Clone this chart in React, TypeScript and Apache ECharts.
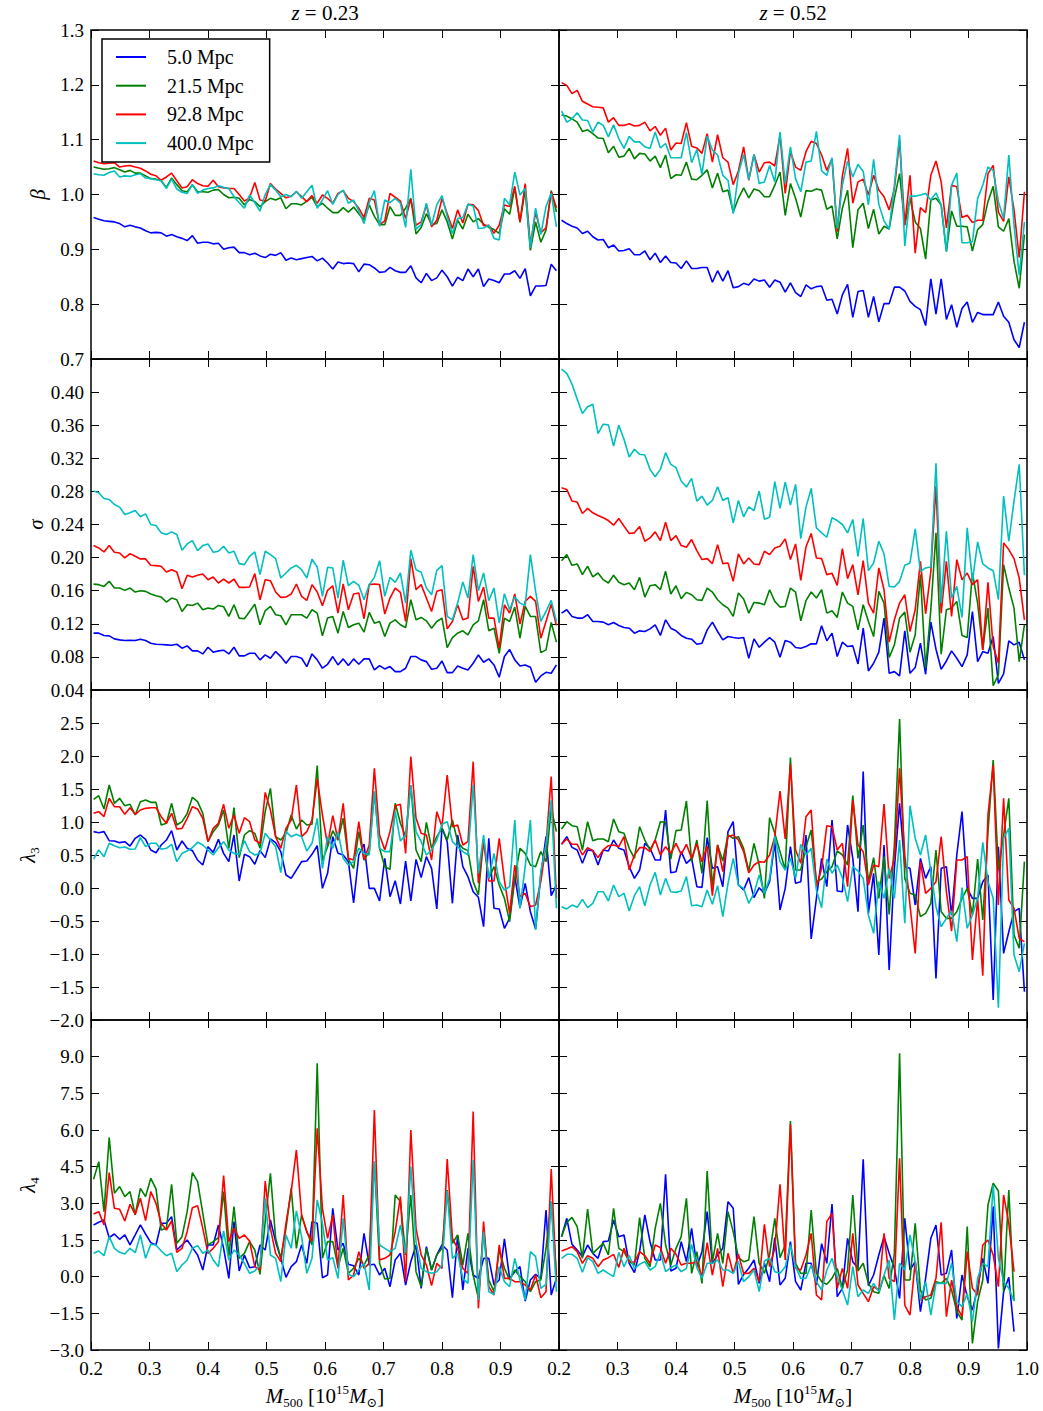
import React, { useEffect, useRef } from "react";
import * as echarts from "echarts";

// Mass-bin centres (10^15 Msun), 90 bins between 0.2 and 1.0
const MASS = [
  0.2044, 0.2133, 0.2222, 0.2311, 0.2400, 0.2489, 0.2578, 0.2667, 0.2756, 0.2844,
  0.2933, 0.3022, 0.3111, 0.3200, 0.3289, 0.3378, 0.3467, 0.3556, 0.3644, 0.3733,
  0.3822, 0.3911, 0.4000, 0.4089, 0.4178, 0.4267, 0.4356, 0.4444, 0.4533, 0.4622,
  0.4711, 0.4800, 0.4889, 0.4978, 0.5067, 0.5156, 0.5244, 0.5333, 0.5422, 0.5511,
  0.5600, 0.5689, 0.5778, 0.5867, 0.5956, 0.6044, 0.6133, 0.6222, 0.6311, 0.6400,
  0.6489, 0.6578, 0.6667, 0.6756, 0.6844, 0.6933, 0.7022, 0.7111, 0.7200, 0.7289,
  0.7378, 0.7467, 0.7556, 0.7644, 0.7733, 0.7822, 0.7911, 0.8000, 0.8089, 0.8178,
  0.8267, 0.8356, 0.8444, 0.8533, 0.8622, 0.8711, 0.8800, 0.8889, 0.8978, 0.9067,
  0.9156, 0.9244, 0.9333, 0.9422, 0.9511, 0.9600, 0.9689, 0.9778, 0.9867, 0.9956,
];

const SCALES = ["5.0 Mpc", "21.5 Mpc", "92.8 Mpc", "400.0 Mpc"];
const COLORS = ["#0000ff", "#008000", "#ff0000", "#00bfbf"];
const TITLES = ["0.23", "0.52"];

// ---------------- beta, z = 0.23 ----------------
const BETA_A_5 = [
  0.958,0.955,0.952,0.951,0.950,0.947,0.941,0.944,0.941,0.939,
  0.934,0.930,0.931,0.930,0.924,0.927,0.923,0.920,0.916,0.925,
  0.911,0.913,0.913,0.910,0.911,0.900,0.903,0.904,0.894,0.894,
  0.890,0.893,0.888,0.885,0.891,0.889,0.894,0.880,0.884,0.881,
  0.883,0.885,0.887,0.879,0.884,0.875,0.864,0.877,0.874,0.875,
  0.874,0.859,0.873,0.872,0.866,0.858,0.859,0.867,0.861,0.858,
  0.858,0.870,0.848,0.839,0.856,0.843,0.848,0.862,0.850,0.833,
  0.849,0.843,0.864,0.850,0.864,0.832,0.846,0.843,0.839,0.855,
  0.855,0.861,0.847,0.865,0.815,0.833,0.833,0.834,0.873,0.861,
];
const BETA_A_21 = [
  1.050,1.048,1.046,1.047,1.049,1.045,1.041,1.044,1.039,1.039,
  1.034,1.029,1.028,1.025,1.013,1.030,1.018,1.007,1.005,1.018,
  1.005,1.005,1.004,1.008,1.009,1.000,0.994,0.995,0.993,0.981,
  0.991,0.987,0.978,0.987,0.993,0.990,0.994,0.974,0.983,0.983,
  0.981,0.988,0.995,0.978,0.984,0.975,0.967,0.967,0.976,0.968,
  0.977,0.965,0.953,0.981,0.960,0.945,0.945,0.978,0.962,0.962,
  0.975,0.993,0.928,0.940,0.965,0.945,0.947,0.972,0.950,0.919,
  0.953,0.937,0.964,0.950,0.956,0.946,0.940,0.936,0.929,0.974,
  0.964,1.012,0.949,1.008,0.898,0.950,0.913,0.935,1.007,0.968,
];
const BETA_A_92 = [
  1.061,1.058,1.056,1.057,1.058,1.050,1.052,1.053,1.050,1.048,
  1.043,1.037,1.034,1.026,1.032,1.039,1.025,1.012,1.014,1.027,
  1.020,1.016,1.015,1.026,1.014,1.012,1.011,1.011,1.000,0.988,
  0.994,1.022,0.990,0.988,1.020,1.010,1.002,0.994,0.997,1.005,
  0.996,0.987,0.998,0.984,0.999,0.993,0.984,1.002,1.007,0.993,
  0.987,0.975,0.958,0.993,0.990,0.945,0.952,1.002,0.995,0.988,
  0.956,0.992,0.944,0.950,0.981,0.941,0.953,0.993,0.965,0.938,
  0.972,0.948,0.982,0.981,0.971,0.943,0.944,0.929,0.944,0.981,
  0.978,1.015,0.950,1.020,0.908,0.968,0.930,0.939,1.005,0.976,
];
const BETA_A_400 = [
  1.038,1.036,1.035,1.040,1.043,1.032,1.034,1.033,1.036,1.038,
  1.030,1.029,1.027,1.025,1.011,1.028,1.010,1.004,1.002,1.018,
  1.002,1.008,1.011,1.012,1.016,1.013,1.011,0.996,0.985,0.975,
  0.999,0.985,0.970,1.000,1.018,1.008,0.996,1.000,0.996,1.006,
  0.993,1.005,1.017,0.975,0.990,1.007,0.982,1.000,1.008,0.984,
  0.990,0.970,0.947,0.985,1.007,0.942,0.990,0.985,0.993,0.984,
  0.940,1.046,0.937,0.945,0.984,0.944,0.981,0.998,0.960,0.929,
  0.956,0.958,0.982,0.979,0.938,0.939,0.944,0.920,0.917,0.993,
  0.981,1.041,0.999,1.011,0.903,0.975,0.927,0.978,1.002,0.941,
];

// ---------------- beta, z = 0.52 ----------------
const BETA_B_5 = [
  0.953,0.947,0.942,0.939,0.929,0.933,0.923,0.917,0.918,0.903,
  0.908,0.897,0.898,0.901,0.890,0.890,0.897,0.881,0.893,0.876,
  0.888,0.876,0.875,0.865,0.879,0.865,0.865,0.867,0.867,0.840,
  0.861,0.842,0.861,0.830,0.832,0.838,0.835,0.846,0.842,0.844,
  0.831,0.844,0.840,0.822,0.839,0.821,0.814,0.835,0.828,0.832,
  0.833,0.807,0.809,0.782,0.817,0.836,0.776,0.823,0.825,0.776,
  0.814,0.768,0.801,0.801,0.831,0.831,0.824,0.805,0.796,0.790,
  0.761,0.846,0.782,0.846,0.772,0.799,0.758,0.792,0.804,0.767,
  0.785,0.781,0.781,0.781,0.804,0.778,0.767,0.735,0.721,0.767,
];
const BETA_B_21 = [
  1.145,1.143,1.138,1.132,1.115,1.118,1.111,1.103,1.102,1.076,
  1.088,1.068,1.070,1.084,1.065,1.075,1.074,1.061,1.070,1.049,
  1.072,1.029,1.036,1.035,1.059,1.028,1.027,1.035,1.045,1.012,
  1.039,1.005,1.008,0.968,0.993,1.012,0.994,1.010,1.007,0.996,
  0.996,1.017,1.041,0.962,1.020,0.993,0.959,1.007,1.006,1.010,
  1.008,0.973,0.979,0.919,0.975,1.008,0.903,0.972,0.984,0.938,
  0.973,0.928,0.942,0.937,0.993,1.038,0.944,0.993,0.950,0.938,
  0.882,0.990,0.993,0.981,0.896,0.970,0.942,0.942,0.941,0.897,
  0.936,0.945,0.987,1.015,0.941,0.933,0.956,0.878,0.829,0.927,
];
const BETA_B_92 = [
  1.204,1.199,1.184,1.190,1.170,1.165,1.160,1.159,1.158,1.132,
  1.140,1.126,1.126,1.129,1.125,1.126,1.132,1.116,1.124,1.108,
  1.121,1.081,1.094,1.093,1.131,1.088,1.085,1.075,1.111,1.059,
  1.109,1.067,1.059,1.018,1.043,1.087,1.026,1.073,1.041,1.058,
  1.059,1.052,1.108,1.002,1.078,1.050,1.044,1.078,1.097,1.093,
  1.072,1.044,1.065,0.932,1.034,1.084,0.984,1.023,1.028,0.999,
  1.035,1.008,0.996,0.972,1.011,1.099,0.944,1.035,0.893,0.976,
  0.967,1.035,1.061,1.023,0.939,1.017,1.014,0.958,0.962,0.949,
  0.953,0.953,1.038,1.053,0.968,0.951,1.032,0.972,0.885,1.005,
];
const BETA_B_400 = [
  1.152,1.132,1.138,1.149,1.136,1.135,1.114,1.132,1.126,1.105,
  1.127,1.102,1.084,1.106,1.096,1.096,1.087,1.084,1.114,1.085,
  1.093,1.067,1.067,1.067,1.113,1.058,1.082,1.037,1.106,1.081,
  1.072,1.035,1.026,0.965,1.038,1.073,1.027,1.073,1.020,1.023,
  1.053,1.023,1.114,1.020,1.087,1.029,1.005,1.059,1.061,1.115,
  1.043,1.035,1.067,0.938,1.017,1.061,1.032,1.055,1.042,0.981,
  1.064,0.982,0.952,0.937,1.017,1.109,0.906,0.997,0.997,0.999,
  1.002,0.990,1.003,0.981,0.896,1.017,1.039,0.912,0.912,0.914,
  0.993,1.017,1.050,1.044,0.987,0.956,1.072,0.944,0.853,0.950,
];

// ---------------- sigma, z = 0.23 ----------------
const SIGMA_A_5 = [
  0.1087,0.1087,0.1059,0.1054,0.1018,0.1006,0.0998,0.1002,0.0998,0.1014,
  0.0998,0.0966,0.0953,0.0949,0.0945,0.0941,0.0953,0.0905,0.0933,0.0873,
  0.0873,0.0836,0.0917,0.0857,0.0873,0.0881,0.0836,0.0917,0.0812,0.0812,
  0.0844,0.0844,0.0764,0.0824,0.0784,0.0865,0.0804,0.0723,0.0804,0.0804,
  0.0784,0.0683,0.0836,0.0764,0.0663,0.0711,0.0804,0.0703,0.0776,0.0695,
  0.0776,0.0711,0.0776,0.0776,0.0642,0.0695,0.0655,0.0683,0.0622,0.0622,
  0.0663,0.0804,0.0804,0.0764,0.0743,0.0650,0.0663,0.0751,0.0610,0.0610,
  0.0691,0.0663,0.0642,0.0723,0.0824,0.0735,0.0776,0.0703,0.0554,0.0804,
  0.0889,0.0764,0.0691,0.0703,0.0675,0.0493,0.0570,0.0614,0.0602,0.0703,
];
const SIGMA_A_21 = [
  0.1680,0.1673,0.1652,0.1713,0.1632,0.1632,0.1604,0.1632,0.1584,0.1600,
  0.1592,0.1560,0.1540,0.1523,0.1463,0.1511,0.1491,0.1349,0.1430,0.1422,
  0.1450,0.1370,0.1390,0.1378,0.1422,0.1406,0.1289,0.1430,0.1269,0.1261,
  0.1349,0.1438,0.1188,0.1357,0.1410,0.1309,0.1297,0.1188,0.1309,0.1309,
  0.1309,0.1269,0.1370,0.1329,0.1054,0.1269,0.1289,0.1087,0.1349,0.1155,
  0.1188,0.1208,0.1099,0.1337,0.1208,0.1228,0.1046,0.1208,0.1248,0.1188,
  0.1155,0.1491,0.1248,0.1277,0.1236,0.1147,0.1228,0.1269,0.0913,0.1034,
  0.1087,0.1115,0.1067,0.1188,0.1236,0.1491,0.1115,0.1147,0.0844,0.1269,
  0.1228,0.1402,0.1026,0.1410,0.1289,0.1289,0.0852,0.0885,0.1216,0.0978,
];
const SIGMA_A_92 = [
  0.2145,0.2117,0.2069,0.2145,0.2065,0.2056,0.1996,0.2048,0.2016,0.1984,
  0.1984,0.1907,0.1903,0.1895,0.1826,0.1854,0.1826,0.1624,0.1786,0.1766,
  0.1786,0.1802,0.1733,0.1766,0.1693,0.1741,0.1693,0.1741,0.1640,0.1640,
  0.1644,0.1806,0.1491,0.1733,0.1721,0.1584,0.1519,0.1523,0.1560,0.1681,
  0.1531,0.1483,0.1673,0.1584,0.1418,0.1604,0.1660,0.1329,0.1681,0.1370,
  0.1560,0.1572,0.1261,0.1673,0.1681,0.1673,0.1317,0.1511,0.1632,0.1580,
  0.1228,0.1988,0.1612,0.1673,0.1511,0.1349,0.1592,0.1612,0.1139,0.1228,
  0.1430,0.1248,0.1269,0.1895,0.1471,0.1644,0.1269,0.1269,0.0905,0.1430,
  0.1329,0.1560,0.1196,0.1471,0.1531,0.1471,0.1026,0.1228,0.1438,0.1180,
];
const SIGMA_A_400 = [
  0.2804,0.2784,0.2715,0.2703,0.2642,0.2610,0.2521,0.2541,0.2569,0.2493,
  0.2529,0.2400,0.2388,0.2299,0.2279,0.2311,0.2279,0.2089,0.2165,0.2206,
  0.2085,0.2145,0.2165,0.2065,0.2077,0.2137,0.2056,0.2077,0.1927,0.1915,
  0.2016,0.2069,0.1794,0.2077,0.2036,0.1988,0.1753,0.1814,0.1875,0.1907,
  0.1854,0.1753,0.1980,0.1887,0.1531,0.1883,0.1875,0.1511,0.1968,0.1660,
  0.1713,0.1665,0.1491,0.1673,0.1761,0.1963,0.1531,0.1761,0.1701,0.1814,
  0.1450,0.2089,0.1854,0.1822,0.1632,0.1551,0.1846,0.1903,0.1289,0.1248,
  0.1450,0.1705,0.1511,0.2036,0.1600,0.1814,0.1479,0.1632,0.1208,0.1564,
  0.1370,0.1523,0.1450,0.1422,0.2036,0.1592,0.1228,0.1349,0.1483,0.1228,
];

// ---------------- sigma, z = 0.52 ----------------
const SIGMA_B_5 = [
  0.1329,0.1370,0.1289,0.1269,0.1269,0.1309,0.1228,0.1228,0.1220,0.1188,
  0.1216,0.1180,0.1155,0.1147,0.1087,0.1115,0.1107,0.1139,0.1188,0.1059,
  0.1248,0.1147,0.1115,0.1059,0.1026,0.1014,0.0953,0.0966,0.1127,0.1220,
  0.1107,0.1006,0.1046,0.1034,0.1026,0.1034,0.0784,0.1018,0.0917,0.0978,
  0.1034,0.0978,0.0796,0.0998,0.0978,0.0913,0.0905,0.0925,0.0958,0.0958,
  0.1176,0.0994,0.1087,0.0804,0.0978,0.0925,0.0933,0.0715,0.1147,0.0630,
  0.0723,0.0857,0.1269,0.0602,0.0622,0.0570,0.1115,0.0602,0.0671,0.0966,
  0.0590,0.1220,0.0893,0.0650,0.0751,0.0873,0.0784,0.0683,0.0824,0.1349,
  0.0743,0.0865,0.0844,0.1046,0.0481,0.0594,0.0994,0.0945,0.0978,0.0764,
];
const SIGMA_B_21 = [
  0.1963,0.2036,0.1907,0.1923,0.1794,0.1895,0.1766,0.1814,0.1733,0.1693,
  0.1786,0.1701,0.1673,0.1693,0.1612,0.1761,0.1523,0.1660,0.1673,0.1612,
  0.1834,0.1560,0.1660,0.1503,0.1580,0.1551,0.1491,0.1483,0.1632,0.1584,
  0.1491,0.1430,0.1390,0.1289,0.1572,0.1499,0.1329,0.1458,0.1450,0.1430,
  0.1612,0.1471,0.1402,0.1410,0.1632,0.1584,0.1236,0.1479,0.1584,0.1511,
  0.1612,0.1329,0.1357,0.1277,0.1584,0.1450,0.1410,0.1127,0.1430,0.1228,
  0.1046,0.1592,0.1450,0.0792,0.0945,0.1269,0.1341,0.0857,0.1067,0.1794,
  0.0663,0.1370,0.2299,0.0832,0.1370,0.1390,0.1471,0.1059,0.1034,0.1814,
  0.1450,0.0885,0.1390,0.0453,0.0582,0.1915,0.1632,0.1390,0.0743,0.1188,
];
const SIGMA_B_92 = [
  0.2844,0.2824,0.2683,0.2671,0.2533,0.2594,0.2541,0.2509,0.2481,0.2448,
  0.2392,0.2473,0.2380,0.2291,0.2299,0.2376,0.2198,0.2238,0.2311,0.2206,
  0.2428,0.2206,0.2266,0.2145,0.2125,0.2218,0.2085,0.1976,0.1988,0.1927,
  0.2157,0.1927,0.1935,0.1713,0.2044,0.1923,0.1996,0.1923,0.1915,0.2077,
  0.2036,0.2117,0.2137,0.2226,0.1976,0.2165,0.1725,0.2129,0.2291,0.1996,
  0.1988,0.1794,0.1810,0.1665,0.2109,0.1745,0.1915,0.1551,0.1963,0.1450,
  0.1329,0.1875,0.1612,0.0978,0.1248,0.1450,0.1551,0.1107,0.1370,0.1955,
  0.1321,0.1834,0.2864,0.1329,0.1955,0.1289,0.1976,0.1733,0.1814,0.1673,
  0.1733,0.0885,0.1701,0.0925,0.0723,0.2178,0.2097,0.1988,0.1753,0.1248,
];
const SIGMA_B_400 = [
  0.4278,0.4226,0.4097,0.3915,0.3741,0.3822,0.3854,0.3499,0.3612,0.3604,
  0.3349,0.3600,0.3430,0.3216,0.3309,0.3248,0.3240,0.3066,0.2978,0.3066,
  0.3268,0.3127,0.3087,0.2925,0.2852,0.2957,0.2683,0.2743,0.2634,0.2691,
  0.2856,0.2691,0.2723,0.2420,0.2691,0.2493,0.2614,0.2569,0.2804,0.2464,
  0.2489,0.2917,0.2594,0.2913,0.2634,0.2885,0.2230,0.2610,0.2836,0.2359,
  0.2299,0.2246,0.2481,0.2448,0.2400,0.2299,0.2460,0.2016,0.2473,0.1842,
  0.1935,0.2198,0.2044,0.1652,0.1644,0.1713,0.1907,0.1935,0.2347,0.1834,
  0.1875,0.1887,0.3139,0.1450,0.2319,0.1511,0.1652,0.1277,0.2359,0.1713,
  0.2190,0.1923,0.1875,0.1842,0.1491,0.2743,0.2198,0.2683,0.3127,0.1786,
];

// ---------------- lambda_3, z = 0.23 ----------------
const L3_A_5 = [
  0.854,0.838,0.854,0.717,0.712,0.687,0.702,0.636,0.753,0.803,
  0.737,0.576,0.535,0.652,0.727,0.869,0.576,0.712,0.601,0.566,
  0.424,0.348,0.626,0.540,0.737,0.525,0.399,0.803,0.106,0.510,
  0.475,0.359,0.566,0.460,0.742,0.687,0.551,0.197,0.146,0.273,
  0.399,0.409,0.510,0.641,-0.005,0.222,0.778,0.525,0.500,0.399,
  -0.227,0.500,0.667,-0.005,-0.005,-0.197,0.449,-0.131,0.111,-0.242,
  0.409,-0.197,0.434,0.157,0.475,0.298,-0.318,0.914,0.702,-0.232,
  0.803,0.323,0.172,-0.056,-0.141,-0.586,0.753,-0.308,-0.318,-0.611,
  -0.460,0.172,-0.298,0.071,-0.359,-0.621,0.197,0.778,-0.116,0.045,
];
const L3_A_21 = [
  1.343,1.399,1.197,1.561,1.283,1.359,1.247,1.268,1.106,1.308,
  1.333,1.298,1.298,0.955,0.980,1.283,0.955,1.005,1.131,1.374,
  1.308,1.131,0.702,0.854,0.955,1.182,0.601,1.217,0.460,0.803,
  0.869,0.828,0.601,1.157,1.510,0.778,0.727,0.828,1.106,0.894,
  1.030,0.955,0.965,1.854,0.414,0.626,0.869,0.727,1.056,0.439,
  0.298,0.854,0.424,0.551,1.460,0.601,0.323,0.283,1.283,0.980,
  0.778,1.561,0.576,0.399,0.995,0.601,0.778,0.904,0.727,1.030,
  0.702,0.601,0.566,0.096,-0.106,0.742,0.146,0.323,0.045,-0.157,
  -0.510,0.146,0.601,0.525,0.348,0.323,0.551,0.399,1.207,0.854,
];
const L3_A_92 = [
  1.131,1.157,1.081,1.359,1.232,1.232,1.116,1.217,1.116,1.182,
  1.207,1.217,1.217,1.081,0.980,1.131,0.894,0.904,1.056,1.232,
  1.197,1.056,0.702,0.904,0.980,1.268,0.904,1.106,0.828,1.066,
  1.005,0.727,0.677,1.449,1.182,0.778,0.601,0.904,1.030,1.561,
  0.778,0.854,1.030,1.652,1.106,0.652,1.096,0.727,1.283,0.449,
  0.424,1.005,0.424,0.652,1.813,0.803,0.576,0.854,1.247,1.268,
  0.525,1.990,1.056,0.828,0.803,0.424,1.157,0.929,1.712,0.929,
  0.955,0.652,0.702,1.914,0.071,0.702,0.106,0.106,0.753,0.121,
  -0.384,0.348,-0.131,-0.081,-0.283,-0.258,0.096,0.652,1.687,-0.157,
];
const L3_A_400 = [
  0.439,0.576,0.475,0.677,0.641,0.611,0.621,0.586,0.591,0.763,
  0.626,0.677,0.677,0.586,0.601,0.662,0.399,0.525,0.561,0.611,
  0.692,0.652,0.576,0.500,0.611,0.702,0.576,0.525,0.510,0.717,
  0.551,0.500,0.525,0.828,0.727,0.626,0.232,0.854,0.778,0.813,
  0.778,0.561,0.677,1.056,0.298,0.778,0.601,0.854,0.449,0.348,
  0.399,0.601,0.525,0.500,1.460,0.601,0.551,0.551,1.157,0.712,
  0.803,1.561,0.854,0.702,0.500,0.576,0.727,0.965,1.005,0.702,
  0.626,0.551,0.500,1.561,0.222,0.803,0.146,0.525,0.096,-0.030,
  0.020,1.030,-0.308,0.323,1.030,-0.636,0.247,0.652,1.333,-0.308,
];

// ---------------- lambda_3, z = 0.52 ----------------
const L3_B_5 = [
  0.662,0.778,0.616,0.576,0.374,0.576,0.566,0.348,0.576,0.561,
  0.727,0.601,0.576,0.323,0.146,0.273,0.677,0.601,0.424,0.424,
  1.182,0.232,0.247,0.551,0.374,0.449,0.020,0.010,0.763,0.298,
  0.323,0.020,0.854,1.005,0.045,-0.030,0.157,-0.146,0.005,-0.081,
  0.096,0.702,-0.333,-0.005,0.626,0.071,0.096,0.803,-0.773,-0.157,
  0.449,0.020,1.030,-0.045,-0.056,0.955,0.449,-0.359,1.763,-0.384,
  0.222,-1.015,0.652,-1.242,0.298,1.283,0.323,0.298,-0.258,0.449,
  0.146,0.323,-1.369,0.298,0.323,-0.409,0.500,1.157,-0.005,-0.157,
  -0.157,0.096,0.197,-1.697,0.626,-0.990,-0.662,-0.359,-0.308,-1.571,
];
const L3_B_21 = [
  0.894,1.005,0.944,0.929,0.576,1.005,0.717,0.742,0.742,0.702,
  1.045,0.854,0.828,0.601,0.449,0.929,0.727,0.576,0.727,1.005,
  0.995,0.439,0.869,0.879,1.318,0.399,0.727,0.222,1.323,0.020,
  0.652,0.409,0.803,0.753,0.778,0.601,0.258,0.677,0.348,-0.157,
  1.066,0.828,0.551,0.273,1.975,0.273,0.273,0.626,0.879,0.096,
  0.136,0.247,0.323,0.561,0.500,0.348,1.399,0.449,0.955,0.096,
  0.460,-0.157,0.475,-0.399,0.652,2.561,0.146,-0.081,-0.106,-0.434,
  -0.384,-0.232,0.576,-0.359,-0.460,-0.460,-0.359,-0.157,-0.005,-0.409,
  0.439,-0.485,0.854,1.939,0.273,0.803,1.359,-0.712,-0.914,0.399,
];
const L3_B_92 = [
  0.662,0.742,0.662,0.662,0.500,0.611,0.566,0.460,0.576,0.641,
  0.652,0.626,0.778,0.273,0.500,0.611,0.611,0.551,0.727,0.500,
  0.626,0.525,0.677,0.510,0.662,0.449,0.667,0.399,0.636,-0.116,
  0.652,0.247,0.778,0.803,0.727,0.551,0.232,0.348,0.399,0.389,
  0.500,0.778,1.470,0.742,1.874,0.576,0.374,1.081,1.182,0.020,
  0.298,0.944,0.929,0.576,0.677,0.020,1.333,0.652,0.551,0.045,
  0.348,0.323,1.273,0.146,0.449,1.813,0.500,-0.258,-0.990,0.399,
  -0.081,-0.005,0.096,0.778,-0.056,-0.652,0.424,0.424,0.475,-1.091,
  -0.157,-1.328,1.106,1.864,-0.258,1.359,-0.182,-0.308,-0.763,-0.813,
];
const L3_B_400 = [
  -0.283,-0.318,-0.258,-0.293,-0.172,-0.298,-0.232,-0.056,-0.056,-0.197,
  0.045,-0.131,-0.081,-0.348,-0.116,0.020,-0.268,0.045,0.237,-0.106,
  0.146,-0.056,-0.066,-0.045,0.172,-0.268,-0.258,-0.283,-0.030,-0.247,
  0.035,-0.434,0.071,0.449,0.045,-0.005,-0.232,-0.081,0.197,-0.081,
  0.146,0.778,0.399,0.273,0.449,0.146,0.662,0.500,0.601,-0.030,
  -0.298,0.439,0.222,0.348,0.157,-0.207,0.323,0.258,0.146,-0.409,
  -0.687,0.096,-0.157,0.298,-0.157,0.727,-0.535,1.247,0.753,0.500,
  0.803,0.247,-0.283,-0.586,-0.460,-0.348,-0.813,0.005,-0.611,-0.409,
  -0.157,0.692,0.096,-0.157,-1.813,0.753,0.904,-1.015,-1.268,-0.838,
];

// ---------------- lambda_4, z = 0.23 ----------------
const L4_A_5 = [
  2.115,2.224,2.319,1.596,1.746,1.528,1.705,1.296,1.705,2.115,
  1.746,1.392,1.296,2.183,2.183,2.456,1.091,1.296,1.501,1.187,
  0.887,0.273,1.296,1.296,2.115,1.160,-0.068,2.251,0.232,0.887,
  0.368,0.409,1.296,1.091,2.319,1.432,0.750,-0.027,0.409,0.614,
  1.296,0.546,2.251,2.183,-0.041,0.068,2.797,1.091,1.364,0.505,
  0.450,0.068,1.773,0.477,0.505,0.068,0.341,-0.409,0.682,0.955,
  -0.341,0.614,1.296,-0.477,1.228,0.273,0.887,1.296,1.091,-0.859,
  1.705,-0.546,1.160,0.068,-0.068,0.750,0.750,-0.341,-0.136,1.542,
  -0.068,0.205,0.409,-0.996,-0.136,0.096,-0.068,2.729,-0.750,-0.068,
];
const L4_A_21 = [
  3.984,4.707,2.660,5.689,3.411,3.684,3.274,3.479,2.524,3.615,
  3.274,4.025,3.588,1.910,1.978,3.779,1.364,1.637,2.660,4.257,
  3.888,2.592,1.296,1.432,1.596,3.479,0.819,2.865,0.750,0.955,
  1.432,1.091,0.096,2.251,4.229,1.569,0.750,1.978,3.615,1.160,
  2.524,1.842,1.296,8.731,0.750,1.432,1.432,0.409,1.160,0.136,
  0.341,0.750,0.477,0.887,4.707,0.546,-0.096,-0.068,3.342,3.070,
  0.887,3.342,0.205,-0.409,1.160,0.273,0.887,1.160,3.547,1.364,
  1.705,0.477,1.773,0.068,-0.887,1.869,-0.136,-0.614,1.091,0.341,
  -0.136,0.273,0.000,-0.205,-0.614,-0.205,-0.136,1.160,3.070,0.068,
];
const L4_A_92 = [
  2.565,2.660,2.115,4.257,2.797,2.756,2.278,2.960,2.551,3.206,
  2.292,3.479,3.001,2.183,1.910,2.278,0.996,1.160,1.842,2.824,
  2.906,1.978,0.955,1.160,1.432,4.134,1.432,1.978,1.569,1.705,
  1.460,0.409,0.273,3.915,1.978,0.955,0.614,2.183,3.479,5.184,
  2.524,1.842,1.432,6.071,2.797,1.569,2.524,0.341,3.342,-0.136,
  0.068,1.023,0.341,0.546,6.821,0.682,0.750,0.887,1.842,3.274,
  -0.205,6.003,1.978,0.887,0.477,-0.368,0.546,0.341,4.816,1.569,
  1.160,0.341,0.136,6.753,-1.296,2.251,-0.409,-0.750,1.296,-0.068,
  -0.068,-0.205,-0.205,-0.341,-0.546,0.068,-0.859,-0.614,4.407,-0.205,
];
const L4_A_400 = [
  0.955,1.050,0.859,1.637,1.160,0.996,0.928,1.160,0.982,1.705,
  0.750,1.323,1.296,1.050,0.859,0.955,0.205,0.477,0.682,1.160,
  1.269,0.955,1.091,0.682,0.409,1.869,0.682,1.091,0.887,0.546,
  0.136,0.232,0.477,3.206,0.887,0.750,-0.205,1.705,1.160,2.688,
  1.637,0.136,0.750,3.138,2.183,0.682,0.778,-0.068,2.387,0.096,
  0.000,0.273,0.546,-0.546,4.707,1.296,1.160,1.023,1.160,2.115,
  0.955,4.502,1.432,0.341,0.205,0.136,0.205,0.477,3.506,0.750,
  0.955,-0.068,-0.273,4.775,-0.955,1.842,-0.614,-0.723,0.409,-0.205,
  -0.409,0.750,-0.136,-0.955,1.023,0.819,-0.477,-0.314,3.070,-0.614,
];

// ---------------- lambda_4, z = 0.52 (last two bins empty) ----------------
const L4_B_5 = [
  1.637,2.387,1.323,1.091,0.819,1.296,0.955,0.750,1.432,1.460,
  2.319,1.637,1.705,0.546,0.164,1.023,2.524,1.432,0.682,0.682,
  4.188,0.232,0.341,1.432,0.614,1.978,0.409,1.023,2.660,0.546,
  0.887,1.160,3.070,2.797,-0.314,0.096,0.341,0.682,-0.273,0.546,
  -0.205,1.596,-0.341,-0.068,1.432,-0.205,-0.546,0.546,0.546,-0.341,
  1.351,0.546,2.974,-0.819,-0.477,1.569,0.614,0.341,4.802,-0.368,
  0.068,0.887,1.637,0.955,0.341,-0.887,2.387,0.273,0.614,-1.432,
  -0.068,1.569,2.115,0.068,0.136,1.091,-1.705,0.068,-0.819,-1.364,
  -0.477,0.750,-0.273,2.865,-2.933,-0.614,-0.027,-2.251,null,null,
];
const L4_B_21 = [
  1.637,2.224,2.428,2.046,0.750,2.769,0.955,1.160,1.364,0.887,
  2.797,1.160,1.023,0.614,0.477,2.415,0.750,0.409,1.978,3.001,
  1.296,0.477,1.160,1.637,3.206,0.136,1.023,-0.273,4.325,0.614,
  1.773,0.546,2.660,1.842,0.778,0.614,0.682,2.456,0.546,0.136,
  0.887,2.387,0.778,1.296,6.371,0.546,0.136,0.136,2.729,0.136,
  -0.205,-0.314,-0.068,0.341,-0.477,0.273,3.342,0.232,0.546,-0.273,
  -0.614,-0.682,0.041,-0.477,0.955,9.141,-0.136,-0.136,2.183,-0.546,
  -0.955,-0.887,-0.205,-0.273,-0.068,-0.546,-1.432,-1.774,2.046,-2.729,
  -1.023,-0.136,2.933,3.820,3.506,-0.614,3.547,-0.996,null,null,
];
const L4_B_92 = [
  1.050,1.132,1.228,1.023,0.546,0.859,0.750,0.409,0.682,0.778,
  0.914,0.382,1.160,0.614,0.587,1.023,0.859,0.546,1.296,1.187,
  0.546,1.160,0.914,0.477,0.546,0.546,0.614,0.000,1.392,0.068,
  1.160,-0.409,0.955,0.136,0.914,0.136,0.136,0.341,-0.205,2.142,
  0.409,1.160,3.779,0.682,6.235,0.341,0.273,0.887,1.773,-0.750,
  -0.955,2.251,2.592,-0.477,0.341,-0.477,1.773,-0.341,-0.682,-1.023,
  -0.409,-0.546,1.773,-0.068,-0.205,4.843,-1.160,-1.569,0.614,-0.955,
  -0.819,-0.750,-0.068,2.224,-1.637,-0.136,-1.228,-1.637,1.023,-0.477,
  -0.750,1.296,1.501,0.887,-0.409,3.342,2.183,0.205,null,null,
];
const L4_B_400 = [
  0.750,0.914,0.914,0.750,0.177,0.778,0.614,0.136,0.273,0.136,
  0.000,0.996,0.409,0.859,0.341,0.505,0.614,0.273,0.409,0.996,
  0.205,0.368,0.477,0.205,0.341,1.323,0.368,-0.068,0.546,0.546,
  0.682,0.273,0.273,0.136,0.614,-0.205,0.000,0.273,-0.614,0.641,
  0.750,0.205,0.136,0.409,1.296,0.409,-0.068,-0.068,0.477,-0.205,
  -0.546,0.273,0.750,0.000,-0.546,-1.160,0.409,-0.819,-0.546,-0.682,
  -0.273,-0.614,0.068,0.682,-1.774,0.546,0.273,1.705,0.614,-0.955,
  -0.205,-1.569,-0.273,-0.273,-0.273,0.546,-1.023,-1.228,-0.682,-1.842,
  -0.068,0.546,0.409,3.752,0.750,-0.205,-0.477,-0.996,null,null,
];

// panel layout: rows = statistic, cols = redshift
const PANEL_DATA = [
  [[BETA_A_5, BETA_A_21, BETA_A_92, BETA_A_400], [BETA_B_5, BETA_B_21, BETA_B_92, BETA_B_400]],
  [[SIGMA_A_5, SIGMA_A_21, SIGMA_A_92, SIGMA_A_400], [SIGMA_B_5, SIGMA_B_21, SIGMA_B_92, SIGMA_B_400]],
  [[L3_A_5, L3_A_21, L3_A_92, L3_A_400], [L3_B_5, L3_B_21, L3_B_92, L3_B_400]],
  [[L4_A_5, L4_A_21, L4_A_92, L4_A_400], [L4_B_5, L4_B_21, L4_B_92, L4_B_400]],
];
const Y_SCALES = [
  { min: 0.7, max: 1.3, interval: 0.1, digits: 1, showMax: true },
  { min: 0.04, max: 0.44, interval: 0.04, digits: 2, showMax: false },
  { min: -2, max: 3, interval: 0.5, digits: 1, showMax: false },
  { min: -3, max: 10.5, interval: 1.5, digits: 1, showMax: false },
];
const Y_NAMES = ["{i|β}", "{i|σ}", "{i|λ}{s|3}", "{i|λ}{s|4}"];
const X_MIN = 0.2;
const X_MAX = 1.0;
const X_STEP = 0.1;

const ROW_TOP = [30, 359, 690, 1020];
const ROW_H = [329, 331, 330, 330];
const COL_LEFT = [91, 559];
const COL_W = 468;
const Y_NAME_X = [38, 36, 28, 28];

const FONT = '"Liberation Serif", "DejaVu Serif", serif';

const fmt = (d: number) => (v: number) => Number(v).toFixed(d).replace("-", "\u2212");

function buildOption() {
  const grids: any[] = [];
  const xAxes: any[] = [];
  const yAxes: any[] = [];
  const series: any[] = [];
  const tick = { show: true, inside: true, length: 8, lineStyle: { color: "#000", width: 1 } };
  const noLine = { show: false, onZero: false };
  const labelStyle = { fontFamily: FONT, fontSize: 19, color: "#000" };

  for (let r = 0; r < 4; r++) {
    for (let c = 0; c < 2; c++) {
      const g = grids.length;
      grids.push({
        left: COL_LEFT[c], top: ROW_TOP[r], width: COL_W, height: ROW_H[r],
        show: true, borderColor: "#000", borderWidth: 1.5, backgroundColor: "transparent",
        containLabel: false,
      });
      const ys = Y_SCALES[r];
      const bottomLabels = r === 3;
      xAxes.push({
        type: "value", gridIndex: g, position: "bottom", min: X_MIN, max: X_MAX, interval: X_STEP,
        axisLine: noLine, axisTick: tick, splitLine: { show: false },
        axisLabel: {
          show: bottomLabels, formatter: fmt(1), margin: 9, showMaxLabel: c === 1, showMinLabel: true,
          ...labelStyle,
        },
      });
      xAxes.push({
        type: "value", gridIndex: g, position: "top", min: X_MIN, max: X_MAX, interval: X_STEP,
        axisLine: noLine, axisTick: tick, splitLine: { show: false }, axisLabel: { show: false },
      });
      yAxes.push({
        type: "value", gridIndex: g, position: "left", min: ys.min, max: ys.max, interval: ys.interval,
        axisLine: noLine, axisTick: tick, splitLine: { show: false },
        axisLabel: {
          show: c === 0, formatter: fmt(ys.digits), margin: 7, showMaxLabel: ys.showMax, showMinLabel: true,
          ...labelStyle,
        },
      });
      yAxes.push({
        type: "value", gridIndex: g, position: "right", min: ys.min, max: ys.max, interval: ys.interval,
        axisLine: noLine, axisTick: tick, splitLine: { show: false }, axisLabel: { show: false },
      });
      const sets = PANEL_DATA[r][c];
      sets.forEach((vals: (number | null)[], k: number) => {
        series.push({
          type: "line", name: SCALES[k], xAxisIndex: 2 * g, yAxisIndex: 2 * g,
          data: MASS.map((m, i) => [m, vals[i]]),
          showSymbol: false, symbol: "none", clip: true, silent: true,
          lineStyle: { color: COLORS[k], width: 1.6 }, itemStyle: { color: COLORS[k] },
          emphasis: { disabled: true }, z: 2 + k,
        });
      });
    }
  }

  const rich = {
    i: { fontFamily: FONT, fontStyle: "italic", fontSize: 21, lineHeight: 26, fill: "#000", color: "#000" },
    n: { fontFamily: FONT, fontSize: 21, lineHeight: 26, fill: "#000", color: "#000" },
    s: { fontFamily: FONT, fontSize: 13, lineHeight: 14, verticalAlign: "bottom", fill: "#000", color: "#000" },
    p: { fontFamily: FONT, fontSize: 13, lineHeight: 14, verticalAlign: "top", fill: "#000", color: "#000" },
  };

  const graphics: any[] = [];
  TITLES.forEach((t, c) => {
    graphics.push({
      type: "text", x: COL_LEFT[c] + COL_W / 2, y: 13, silent: true,
      style: { text: "{i|z}{n| = " + t + "}", rich, align: "center", verticalAlign: "middle" },
    });
    graphics.push({
      type: "text", x: COL_LEFT[c] + COL_W / 2, y: 1396, silent: true,
      style: {
        text: "{i|M}{s|500}{n| [10}{p|15}{i|M}{s|\u2299}{n|]}",
        rich, align: "center", verticalAlign: "middle",
      },
    });
  });
  Y_NAMES.forEach((t, r) => {
    graphics.push({
      type: "text", x: Y_NAME_X[r], y: ROW_TOP[r] + ROW_H[r] / 2, rotation: Math.PI / 2, silent: true,
      style: { text: t, rich, align: "center", verticalAlign: "middle" },
    });
  });

  return {
    animation: false,
    backgroundColor: "#ffffff",
    grid: grids,
    xAxis: xAxes,
    yAxis: yAxes,
    series,
    graphic: graphics,
    legend: {
      data: SCALES, left: 102, top: 39, orient: "vertical", selectedMode: false,
      backgroundColor: "#ffffff", borderColor: "#000", borderWidth: 1.5, borderRadius: 0,
      padding: [8, 16, 9, 14], itemGap: 8.7, itemWidth: 30, itemHeight: 2, icon: "rect",
      textStyle: { fontFamily: FONT, fontSize: 20, color: "#000", lineHeight: 20, padding: [0, 0, 0, 16] },
      z: 10,
    },
  };
}

export default function App() {
  const ref = useRef<HTMLDivElement>(null);
  useEffect(() => {
    if (!ref.current) return;
    const chart = echarts.init(ref.current, undefined, { renderer: "svg" });
    chart.setOption(buildOption() as any);
    return () => chart.dispose();
  }, []);
  return (
    <div
      ref={ref}
      style={{ position: "absolute", left: 0, top: 0, width: 1043, height: 1411, background: "#fff" }}
    />
  );
}
